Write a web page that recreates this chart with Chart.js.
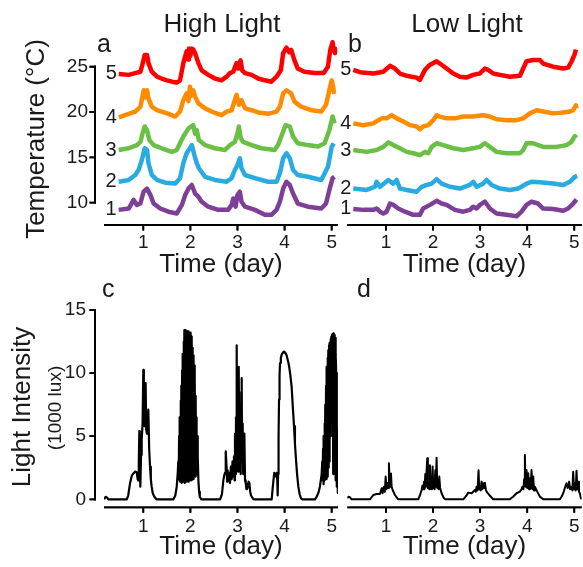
<!DOCTYPE html>
<html><head><meta charset="utf-8">
<script src="https://cdn.jsdelivr.net/npm/chart.js@4.4.1/dist/chart.umd.min.js"></script>
<style>
html,body{margin:0;padding:0;background:#fff;}
body{width:583px;height:567px;position:relative;overflow:hidden;font-family:"Liberation Sans",Arial,Helvetica,sans-serif;color:#1a1a1a;}
canvas{position:absolute;}
.t{position:absolute;white-space:nowrap;line-height:1;}
</style></head><body>
<canvas id="ca" width="345" height="290" style="left:0;top:0"></canvas>
<canvas id="cb" width="243" height="290" style="left:340px;top:0"></canvas>
<canvas id="cc" width="345" height="277" style="left:0;top:290px"></canvas>
<canvas id="cd" width="243" height="277" style="left:340px;top:290px"></canvas>

<div class="t" style="left:222px;top:10px;font-size:26px;transform:translateX(-50%)">High Light</div>
<div class="t" style="left:467px;top:10px;font-size:26px;transform:translateX(-50%)">Low Light</div>
<div class="t" style="left:97px;top:31px;font-size:25px">a</div>
<div class="t" style="left:348px;top:31px;font-size:25px">b</div>
<div class="t" style="left:102px;top:276px;font-size:25px">c</div>
<div class="t" style="left:357px;top:276px;font-size:25px">d</div>
<div class="t" style="left:35px;top:139px;font-size:26px;transform:translate(-50%,-50%) rotate(-90deg)">Temperature (°C)</div>
<div class="t" style="left:21px;top:407px;font-size:26px;transform:translate(-50%,-50%) rotate(-90deg)">Light Intensity</div>
<div class="t" style="left:54px;top:408px;font-size:19px;transform:translate(-50%,-50%) rotate(-90deg)">(1000 lux)</div>

<script>
// ---------- tick labels & names ----------
const dayTicks = [1, 2, 3, 4, 5];
const tempTicks = [10, 15, 20, 25];
const luxTicks = [0, 5, 10, 15];
const seriesNames = ['1', '2', '3', '4', '5'];

// ---------- High light temperatures [day, °C] ----------
const high1 = [[0.478,9.2],[0.69,9.35],[0.795,10.3],[0.865,9.75],[0.936,9.9],[1.007,11.2],[1.078,11.55],[1.15,10.85],[1.22,9.9],[1.36,9.35],[1.535,9.0],[1.71,8.8],[1.82,9.75],[1.89,10.85],[1.96,11.55],[2.03,11.95],[2.1,11.0],[2.17,10.65],[2.24,10.1],[2.38,9.55],[2.59,9.2],[2.8,9.2],[2.875,9.75],[2.91,10.45],[2.96,9.55],[3.0,10.85],[3.05,11.2],[3.085,10.1],[3.16,9.55],[3.37,9.2],[3.58,8.65],[3.72,8.65],[3.83,9.2],[3.9,10.1],[3.97,11.55],[4.04,12.3],[4.11,11.95],[4.18,11.0],[4.28,9.9],[4.495,9.55],[4.78,9.35],[4.88,9.9],[4.95,11.4],[5.02,12.7],[5.06,12.85]];
const high2 = [[0.478,12.3],[0.69,12.5],[0.83,13.05],[0.9,13.6],[0.97,14.7],[1.03,16.0],[1.08,15.8],[1.11,14.35],[1.18,13.05],[1.29,12.5],[1.465,12.2],[1.68,12.1],[1.78,12.7],[1.85,14.35],[1.92,15.45],[2.03,16.35],[2.085,15.25],[2.135,14.35],[2.18,13.8],[2.31,12.85],[2.52,12.5],[2.77,12.3],[2.875,12.7],[2.945,13.6],[3.0,14.15],[3.05,14.9],[3.085,13.8],[3.16,13.05],[3.37,12.7],[3.65,12.3],[3.83,12.3],[3.9,13.25],[3.97,14.9],[4.04,15.45],[4.11,14.9],[4.18,13.6],[4.28,13.05],[4.495,12.85],[4.78,12.5],[4.92,13.95],[5.0,16.15],[5.045,16.55]];
const high3 = [[0.478,15.8],[0.69,16.0],[0.865,16.35],[0.94,16.7],[0.985,17.65],[1.03,18.4],[1.08,18.0],[1.13,16.9],[1.22,16.35],[1.39,16.0],[1.605,15.6],[1.71,15.8],[1.78,16.55],[1.85,17.3],[1.96,18.2],[2.06,18.55],[2.1,17.6],[2.135,18.0],[2.18,16.9],[2.31,16.35],[2.52,16.0],[2.73,15.8],[2.84,16.35],[2.945,16.7],[3.0,17.65],[3.03,18.4],[3.07,17.1],[3.12,16.7],[3.3,16.35],[3.51,16.0],[3.79,15.8],[3.86,16.35],[3.93,17.3],[4.02,18.55],[4.11,18.4],[4.18,17.3],[4.28,16.55],[4.495,16.35],[4.71,16.2],[4.85,16.55],[4.95,18.0],[5.02,19.5],[5.06,18.75]];
const high4 = [[0.48,19.4],[0.69,19.8],[0.83,20.05],[0.94,20.6],[1.01,22.4],[1.05,21.6],[1.08,22.4],[1.11,21.5],[1.18,20.6],[1.29,20.2],[1.39,20.05],[1.535,19.8],[1.68,19.5],[1.78,20.05],[1.85,21.3],[1.92,22.05],[1.96,21.2],[1.99,22.8],[2.02,21.8],[2.06,22.4],[2.1,21.7],[2.17,20.95],[2.31,20.4],[2.45,20.05],[2.66,19.65],[2.77,20.05],[2.875,20.2],[2.98,21.9],[3.03,20.8],[3.085,21.3],[3.16,20.4],[3.3,20.2],[3.44,19.95],[3.65,19.8],[3.83,20.05],[3.9,20.6],[3.97,22.05],[4.04,22.4],[4.14,22.05],[4.21,21.15],[4.35,20.6],[4.57,20.2],[4.78,20.05],[4.88,20.8],[4.95,22.4],[5.0,23.5],[5.03,22.8],[5.05,22.0]];
const high5 = [[0.48,24.2],[0.69,24.1],[0.83,24.3],[0.94,24.45],[0.97,25.0],[1.03,26.3],[1.08,26.3],[1.11,25.4],[1.18,24.45],[1.29,23.9],[1.39,23.7],[1.5,23.5],[1.61,23.35],[1.71,23.25],[1.78,23.5],[1.85,25.4],[1.92,26.7],[1.95,25.8],[1.97,27.0],[2.0,26.2],[2.03,27.0],[2.06,26.9],[2.1,26.5],[2.17,25.4],[2.24,24.6],[2.38,24.1],[2.52,23.7],[2.66,23.5],[2.77,23.9],[2.84,24.3],[2.91,24.45],[2.98,25.4],[3.015,24.8],[3.065,25.7],[3.1,24.6],[3.16,24.3],[3.3,24.1],[3.44,23.7],[3.58,23.5],[3.72,23.35],[3.83,23.9],[3.92,24.6],[3.97,26.5],[4.04,27.1],[4.1,26.6],[4.14,26.85],[4.21,25.7],[4.28,24.8],[4.42,24.45],[4.64,24.3],[4.83,24.3],[4.92,25.0],[4.97,26.85],[5.02,27.7],[5.04,26.8],[5.06,27.0],[5.07,26.5]];

// ---------- Low light temperatures [day, °C] ----------
const low1 = [[0.306,9.3],[0.518,9.2],[0.731,9.2],[0.8,9.35],[0.872,9.0],[0.943,8.8],[1.014,9.0],[1.085,9.9],[1.155,9.75],[1.26,9.35],[1.403,9.0],[1.58,8.65],[1.72,8.65],[1.79,9.35],[1.934,9.75],[2.075,10.2],[2.182,9.9],[2.288,9.75],[2.465,9.2],[2.64,9.0],[2.783,9.2],[2.854,9.55],[2.925,9.35],[2.995,9.75],[3.1,10.1],[3.208,9.35],[3.35,8.8],[3.56,8.65],[3.774,8.5],[3.88,9.0],[3.986,9.75],[4.092,10.1],[4.23,9.9],[4.34,9.35],[4.55,9.3],[4.765,9.1],[4.87,9.35],[4.977,9.9],[5.048,10.35]];
const low2 = [[0.306,11.55],[0.589,11.4],[0.766,11.75],[0.8,12.3],[0.872,11.75],[1.049,12.5],[1.155,12.1],[1.226,12.5],[1.297,11.55],[1.44,11.4],[1.65,11.2],[1.757,11.75],[1.862,11.95],[1.97,12.1],[2.075,12.6],[2.182,12.1],[2.358,11.75],[2.57,11.55],[2.783,11.95],[2.854,12.3],[2.925,11.75],[3.066,12.1],[3.137,12.5],[3.243,11.95],[3.42,11.55],[3.632,11.4],[3.81,11.55],[3.88,11.75],[3.986,12.1],[4.092,12.3],[4.27,12.25],[4.55,12.1],[4.765,11.95],[4.906,12.3],[5.012,12.85],[5.062,12.95]];
const low3 = [[0.306,15.8],[0.589,15.6],[0.8,15.8],[0.943,16.15],[1.049,16.65],[1.155,16.35],[1.297,16.0],[1.44,15.6],[1.58,15.45],[1.72,15.25],[1.828,15.6],[1.9,15.45],[1.97,16.15],[2.075,16.55],[2.217,16.35],[2.43,16.0],[2.64,15.8],[2.85,16.0],[2.995,16.15],[3.1,16.55],[3.208,16.15],[3.35,15.6],[3.56,15.45],[3.845,15.45],[3.915,15.8],[3.986,16.55],[4.13,16.55],[4.34,16.15],[4.624,16.15],[4.835,16.35],[4.94,16.7],[5.012,17.35],[5.048,17.15]];
const low4 = [[0.306,18.75],[0.518,18.55],[0.731,18.75],[0.837,19.1],[0.908,19.3],[1.014,19.3],[1.12,19.65],[1.226,19.3],[1.368,18.95],[1.51,18.55],[1.65,18.4],[1.72,18.1],[1.79,18.4],[1.9,18.55],[2.005,19.1],[2.075,19.65],[2.146,19.5],[2.288,19.3],[2.465,19.3],[2.64,19.5],[2.85,19.5],[3.066,19.65],[3.208,19.5],[3.35,19.2],[3.56,19.1],[3.774,19.1],[3.915,19.3],[4.057,19.85],[4.2,20.2],[4.34,20.05],[4.55,19.85],[4.765,19.95],[4.906,20.05],[4.977,20.2],[5.034,20.75],[5.05,20.4]];
const low5 = [[0.306,24.65],[0.448,24.4],[0.731,24.25],[0.943,24.45],[1.085,25.1],[1.19,24.8],[1.297,24.25],[1.44,24.0],[1.545,23.9],[1.65,23.8],[1.72,23.55],[1.828,24.65],[1.93,25.2],[2.075,25.6],[2.146,25.35],[2.288,24.8],[2.43,24.25],[2.57,23.9],[2.71,23.8],[2.85,24.1],[2.995,24.25],[3.1,24.8],[3.17,24.65],[3.28,24.25],[3.42,24.1],[3.63,23.9],[3.845,24.0],[3.915,24.8],[3.986,25.6],[4.13,25.75],[4.27,25.75],[4.34,25.35],[4.55,25.0],[4.765,24.8],[4.87,24.9],[4.94,25.55],[5.01,26.4],[5.035,26.9]];

// ---------- Light intensity (1000 lux) [day, value] ----------
const luxHigh = [[0.17,0],[0.2,0.2],[0.23,0.15],[0.26,0],[0.65,0],[0.68,0.3],[0.72,1.3],[0.76,1.9],[0.79,2.05],[0.83,2.2],[0.86,2.15],[0.88,1.6],[0.895,1.5],[0.905,3.0],[0.916,5.4],[0.925,2.0],[0.938,1.0],[0.952,3.5],[0.966,4.7],[0.985,6.0],[1.001,10.25],[1.012,6.5],[1.022,5.8],[1.036,8.0],[1.05,9.2],[1.062,5.5],[1.079,5.2],[1.093,6.5],[1.107,7.1],[1.125,4.0],[1.143,2.6],[1.16,1.6],[1.178,1.0],[1.2,0.5],[1.235,0.2],[1.28,0],
 [1.64,0],[1.68,0.3],[1.71,1.0],[1.73,2.0],[1.744,3.0],[1.752,1.6],[1.76,5.0],[1.768,1.5],[1.776,6.5],[1.784,1.4],[1.792,7.8],[1.8,1.5],[1.808,9.0],[1.816,1.3],[1.824,10.2],[1.832,1.6],[1.84,11.5],[1.848,1.4],[1.856,12.5],[1.864,1.5],[1.872,13.4],[1.88,1.3],[1.888,13.3],[1.896,1.6],[1.904,13.4],[1.912,1.4],[1.92,13.2],[1.928,1.5],[1.936,13.3],[1.944,1.7],[1.952,13.2],[1.96,1.4],[1.968,13.3],[1.976,1.6],[1.984,13.0],[1.992,1.5],[2.0,13.2],[2.008,1.8],[2.016,12.9],[2.024,1.5],[2.032,12.6],[2.04,1.7],[2.048,12.0],[2.056,1.9],[2.064,11.4],[2.072,1.6],[2.08,10.6],[2.088,2.0],[2.096,9.6],[2.104,1.8],[2.112,8.2],[2.12,2.2],[2.128,6.5],[2.136,2.0],[2.144,5.0],[2.152,2.3],[2.16,3.5],[2.17,1.5],[2.185,0.6],[2.2,0.2],[2.23,0],
 [2.63,0],[2.67,0.4],[2.7,1.5],[2.72,1.9],[2.735,2.1],[2.745,3.0],[2.756,3.8],[2.768,2.6],[2.78,1.4],[2.792,2.3],[2.81,1.5],[2.83,2.1],[2.841,1.3],[2.86,2.6],[2.877,1.6],[2.895,3.0],[2.912,1.8],[2.925,3.4],[2.94,1.5],[2.947,5.2],[2.958,2.0],[2.968,6.5],[2.976,2.5],[2.983,12.2],[2.99,3.0],[3.004,6.5],[3.012,2.2],[3.02,8.0],[3.032,10.5],[3.04,2.5],[3.05,7.0],[3.06,5.8],[3.068,2.0],[3.08,8.5],[3.089,9.6],[3.098,3.0],[3.11,6.0],[3.12,2.0],[3.133,4.5],[3.146,5.2],[3.16,1.5],[3.174,1.3],[3.19,0.8],[3.2,1.2],[3.216,0.9],[3.235,1.4],[3.252,1.3],[3.27,0.6],[3.287,0.3],[3.34,0],
 [3.726,0],[3.745,0.8],[3.761,1.4],[3.78,2.1],[3.797,2.0],[3.815,1.8],[3.832,2.1],[3.845,1.5],[3.853,0.3],[3.862,2.0],[3.872,5.0],[3.882,7.9],[3.893,9.8],[3.903,10.8],[3.92,11.2],[3.938,11.45],[3.96,11.6],[3.988,11.7],[4.015,11.6],[4.044,11.4],[4.07,11.0],[4.094,10.6],[4.12,9.9],[4.15,8.9],[4.175,7.3],[4.2,5.8],[4.22,4.4],[4.243,3.1],[4.265,2.0],[4.292,1.0],[4.32,0.4],[4.349,0.08],[4.38,0],
 [4.646,0],[4.68,0.2],[4.717,0.5],[4.75,1.0],[4.787,2.0],[4.8,3.0],[4.808,1.5],[4.816,4.0],[4.824,1.2],[4.832,5.0],[4.84,1.8],[4.848,6.0],[4.856,1.5],[4.864,7.5],[4.872,2.0],[4.88,9.0],[4.888,1.6],[4.896,10.5],[4.904,2.2],[4.912,11.2],[4.92,1.8],[4.928,11.8],[4.936,2.5],[4.944,12.2],[4.952,3.0],[4.96,12.4],[4.968,5.0],[4.976,12.7],[4.984,7.0],[4.992,12.9],[5.0,6.0],[5.008,13.0],[5.016,8.0],[5.024,13.1],[5.032,2.0],[5.04,13.15],[5.048,9.0],[5.056,13.0],[5.064,4.0],[5.072,12.8],[5.08,1.5],[5.088,11.5],[5.096,10.0],[5.104,1.0],[5.112,6.0],[5.12,2.5],[5.13,0.5]];
const luxLow = [[0.179,0.08],[0.2,0.2],[0.235,0.16],[0.27,0],[0.66,0],[0.73,0.34],[0.8,0.42],[0.872,0.42],[0.908,0.87],[0.929,0.48],[0.94,0.9],[0.957,1.0],[0.975,0.6],[0.993,1.8],[1.01,0.8],[1.028,1.3],[1.045,0.9],[1.063,2.85],[1.075,1.2],[1.085,1.55],[1.095,1.0],[1.106,2.05],[1.12,1.0],[1.141,0.74],[1.19,0.34],[1.26,0],
 [1.686,0],[1.72,0.3],[1.757,0.74],[1.775,1.1],[1.79,0.8],[1.806,1.4],[1.82,0.8],[1.835,2.0],[1.849,1.0],[1.862,2.2],[1.877,3.25],[1.89,0.9],[1.905,1.3],[1.92,0.8],[1.934,2.7],[1.948,0.9],[1.962,1.3],[1.976,0.8],[1.99,2.6],[2.005,0.9],[2.019,1.0],[2.033,0.8],[2.047,2.3],[2.06,1.0],[2.075,3.3],[2.09,0.9],[2.104,1.4],[2.118,0.8],[2.132,1.8],[2.15,0.9],[2.181,0.48],[2.231,0.08],[2.26,0],
 [2.642,0],[2.7,0.25],[2.748,0.53],[2.82,0.48],[2.889,0.74],[2.905,0.6],[2.925,1.0],[2.945,0.7],[2.967,2.3],[2.98,0.8],[2.995,1.0],[3.012,0.7],[3.03,1.4],[3.048,0.8],[3.066,1.27],[3.083,0.9],[3.1,1.32],[3.12,0.8],[3.137,0.61],[3.194,0.34],[3.278,0],
 [3.632,0],[3.7,0.2],[3.774,0.48],[3.845,0.61],[3.88,0.8],[3.9,1.0],[3.92,0.8],[3.935,1.6],[3.951,3.5],[3.965,1.0],[3.986,2.32],[4.0,0.9],[4.022,2.06],[4.04,0.8],[4.057,1.66],[4.075,0.9],[4.092,2.32],[4.11,0.8],[4.128,1.8],[4.145,0.7],[4.163,1.0],[4.213,0.61],[4.27,0.21],[4.34,0],
 [4.694,0],[4.73,0.2],[4.765,0.48],[4.8,0.9],[4.835,1.27],[4.86,0.9],[4.892,1.4],[4.91,0.8],[4.942,1.0],[4.96,0.7],[4.977,2.19],[4.995,0.8],[5.012,1.27],[5.03,0.7],[5.048,2.27],[5.065,0.8],[5.083,1.4],[5.1,0.6],[5.119,0.48],[5.14,0.1],[5.154,0]];

// ---------- styling ----------
const FONT = '"Liberation Sans", Arial, Helvetica, sans-serif';
Chart.defaults.font.family = FONT;
Chart.defaults.color = '#1a1a1a';
const tempColors = ['#7d3f98', '#29abe2', '#6abf45', '#ff8c00', '#ff0000'];

function drawYAxis(chart, o) {
  const {ctx, chartArea: ca, scales} = chart;
  const ys = scales.y;
  const x0 = ca.left - 9;
  const yA = ys.getPixelForValue(o.from), yB = ys.getPixelForValue(o.to);
  ctx.save();
  ctx.strokeStyle = '#000';
  ctx.lineWidth = 1.8;
  ctx.beginPath();
  ctx.moveTo(x0, yA + 0.9); ctx.lineTo(x0, yB - 0.9);
  ctx.stroke();
  ctx.beginPath();
  ys.ticks.forEach(t => { const py = ys.getPixelForValue(t.value); ctx.moveTo(x0 + 0.9, py); ctx.lineTo(x0 - 5.5, py); });
  ctx.stroke();
  ctx.restore();
}
function drawXAxis(chart) {
  const {ctx, chartArea: ca, scales} = chart;
  const xs = scales.x;
  ctx.save();
  ctx.strokeStyle = '#000';
  ctx.lineWidth = 1.8;
  ctx.beginPath();
  ctx.moveTo(ca.left, ca.bottom); ctx.lineTo(ca.right, ca.bottom);
  ctx.stroke();
  ctx.beginPath();
  xs.ticks.forEach(t => { const px = xs.getPixelForValue(t.value); ctx.moveTo(px, ca.bottom); ctx.lineTo(px, ca.bottom + 5.5); });
  ctx.stroke();
  ctx.restore();
}

// capped y axis (offset left of plot) and x axis: drawn before anything else, on a fresh canvas state
const ggAxes = {
  id: 'ggAxes',
  beforeDraw(chart, args, o) {
    if (o.showY) drawYAxis(chart, o);
    drawXAxis(chart);
  },
  afterDraw(chart, args, o) {
    const ctx = chart.ctx;
    for (let k = 0; k < 12; k++) ctx.restore();   // unwind any leftover state (no-op when balanced)
    if (o.showY) drawYAxis(chart, o);
    drawXAxis(chart);
    if (o.labels) {
      ctx.save();
      ctx.fillStyle = '#1a1a1a';
      ctx.font = '20px ' + FONT;
      ctx.textAlign = 'right';
      ctx.textBaseline = 'middle';
      chart.data.datasets.forEach((d, i) => {
        const pt = chart.getDatasetMeta(i).data[0];
        ctx.fillText(o.labels[i], pt.x - 2, pt.y);
      });
      ctx.restore();
    }
  }
};

function zeroPad(s) { s.paddingLeft = 0; s.paddingRight = 0; s.paddingTop = 0; s.paddingBottom = 0; }

function build(id, series, colors, bw, cfg) {
  return new Chart(document.getElementById(id), {
    type: 'line',
    data: {
      datasets: series.map((s, i) => ({
        data: s.map(p => ({x: p[0], y: p[1]})),
        borderColor: colors[i], borderWidth: bw, pointRadius: 0, tension: 0, fill: false,
        borderJoinStyle: 'round'
      }))
    },
    options: {
      responsive: false, animation: false, events: [],
      layout: {padding: cfg.pad},
      plugins: {legend: {display: false}, tooltip: {enabled: false},
        ggAxes: {showY: cfg.showY, from: cfg.yLo, to: cfg.yHi, labels: cfg.labels}},
      scales: {
        x: {
          type: 'linear', min: cfg.xMin, max: cfg.xMax,
          afterBuildTicks: s => { s.ticks = dayTicks.map(v => ({value: v})); },
          afterFit: s => { s.height = cfg.xH; zeroPad(s); },
          grid: {display: false, drawTicks: false}, border: {display: false},
          ticks: {font: {size: 19}, padding: cfg.xTickPad, color: '#1a1a1a', maxRotation: 0, callback: v => String(v)},
          title: {display: true, text: 'Time (day)', font: {size: 26}, color: '#1a1a1a', padding: {top: 0, bottom: cfg.titlePad}}
        },
        y: {
          type: 'linear', display: cfg.showY, min: cfg.yMin, max: cfg.yMax,
          afterBuildTicks: s => { s.ticks = cfg.yTicks.map(v => ({value: v})); },
          afterFit: s => { s.width = cfg.showY ? 104 : 0; zeroPad(s); },
          grid: {display: false, drawTicks: false}, border: {display: false},
          ticks: {font: {size: 19}, padding: cfg.yTickPad, color: '#1a1a1a', callback: v => String(v)}
        }
      }
    },
    plugins: [ggAxes]
  });
}

const tempMin = 7.53, tempMax = 27.95, luxMin = -0.634, luxMax = 15.79;

build('ca', [high1, high2, high3, high4, high5], tempColors, 4.5,
  {pad: {left: 0, top: 40, right: 7, bottom: 0}, showY: true, xMin: 0.166, xMax: 5.134, yMin: tempMin, yMax: tempMax,
   yTicks: tempTicks, yLo: 10, yHi: 25, xH: 65, xTickPad: 6, titlePad: 10, yTickPad: 16, labels: seriesNames});
build('cb', [low1, low2, low3, low4, low5], tempColors, 4.5,
  {pad: {left: 7.3, top: 40, right: 1.3, bottom: 0}, showY: false, xMin: 0.178, xMax: 5.158, yMin: tempMin, yMax: tempMax,
   yTicks: tempTicks, yLo: 10, yHi: 25, xH: 65, xTickPad: 6, titlePad: 10, yTickPad: 16, labels: seriesNames});
build('cc', [luxHigh], ['#000'], 2.2,
  {pad: {left: 0, top: 10, right: 7, bottom: 0}, showY: true, xMin: 0.166, xMax: 5.134, yMin: luxMin, yMax: luxMax,
   yTicks: luxTicks, yLo: 0, yHi: 15, xH: 59.7, xTickPad: 8, titlePad: 5, yTickPad: 18, labels: null});
build('cd', [luxLow], ['#000'], 2.0,
  {pad: {left: 7.3, top: 10, right: 1.3, bottom: 0}, showY: false, xMin: 0.178, xMax: 5.158, yMin: luxMin, yMax: luxMax,
   yTicks: luxTicks, yLo: 0, yHi: 15, xH: 59.7, xTickPad: 8, titlePad: 5, yTickPad: 18, labels: null});
</script>
</body></html>
